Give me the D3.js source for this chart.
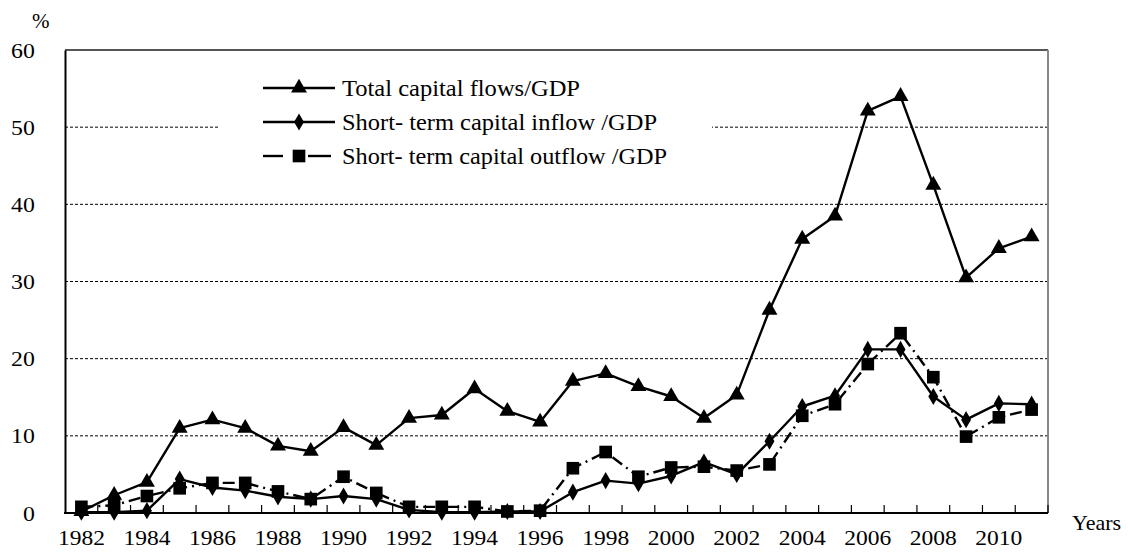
<!DOCTYPE html>
<html><head><meta charset="utf-8">
<script src="https://cdn.jsdelivr.net/npm/d3@7"></script>
<style>
html,body{margin:0;padding:0;background:#fff;}
svg text{font-family:"Liberation Serif","Times New Roman",serif !important;fill:#000;}
</style></head>
<body><svg id="c" width="1128" height="552"></svg>
<script>
const years = d3.range(1982, 2012);
const totalFlows = [0.2,2.3,4.0,11.0,12.1,11.0,8.7,8.0,11.1,8.8,12.3,12.7,16.1,13.2,11.8,17.1,18.1,16.4,15.1,12.3,15.3,26.3,35.5,38.5,52.1,54.0,42.5,30.5,34.3,35.8];
const inflow = [0.1,0.1,0.3,4.4,3.3,2.9,2.1,1.8,2.2,1.8,0.4,0.1,0.1,0.2,0.2,2.7,4.2,3.8,4.8,6.6,5.0,9.3,13.8,15.2,21.2,21.2,15.1,12.1,14.2,14.1];
const outflow = [0.8,1.0,2.2,3.2,3.9,3.9,2.8,1.8,4.7,2.6,0.8,0.8,0.8,0.2,0.3,5.8,7.9,4.7,5.9,6.0,5.5,6.3,12.6,14.1,19.3,23.3,17.6,9.9,12.4,13.4];
const yTicks = [0,10,20,30,40,50,60];
const xLabels = years.filter(y => y % 2 === 0);
const seriesNames = ["Total capital flows/GDP","Short- term capital inflow /GDP","Short- term capital outflow /GDP"];

const svg = d3.select("#c");
const L = 65, R = 1048, T = 50, B = 513;
const x = d3.scaleBand().domain(years).range([L, R]).padding(0);
const y = d3.scaleLinear().domain([0, 60]).range([B, T]);
const cx = d => x(d) + x.bandwidth() / 2;

// gridlines
svg.append("g").selectAll("line").data(yTicks.filter(v => v > 0 && v < 60)).join("line")
  .attr("x1", L).attr("x2", R).attr("y1", d => y(d)).attr("y2", d => y(d))
  .attr("stroke", "#000").attr("stroke-width", 1).attr("stroke-dasharray", "3,2");

// top and right border
svg.append("line").attr("x1", L).attr("x2", R).attr("y1", y(60)).attr("y2", y(60))
  .attr("stroke", "#555").attr("stroke-width", 2);
svg.append("line").attr("x1", R).attr("x2", R).attr("y1", y(60)).attr("y2", y(0))
  .attr("stroke", "#888").attr("stroke-width", 2);

// legend background (covers gridline)
svg.append("rect").attr("x", 218).attr("y", 68).attr("width", 494).attr("height", 112).attr("fill", "#fff");

// y axis
const yAxis = svg.append("g").attr("transform", `translate(${L},0)`)
  .call(d3.axisLeft(y).tickValues(yTicks).tickSize(0).tickPadding(28));
yAxis.attr("font-family", "Liberation Serif").attr("font-size", 22);
yAxis.select(".domain").attr("stroke", "#000").attr("stroke-width", 2);
yAxis.selectAll("text").attr("font-size", 22).attr("transform", "scale(1.08,1)");

// x axis labels
const xAxis = svg.append("g").attr("transform", `translate(0,${B})`)
  .call(d3.axisBottom(x).tickValues(xLabels).tickSize(0).tickPadding(17));
xAxis.attr("font-family", "Liberation Serif").attr("font-size", 21);
xAxis.select(".domain").remove();
xAxis.selectAll("text").attr("font-size", 21).attr("textLength", 47).attr("lengthAdjust", "spacingAndGlyphs");
// boundary tick marks (inward)
const bounds = years.map(d => x(d)).concat([R]);
svg.append("g").selectAll("line").data(bounds.slice(1)).join("line")
  .attr("x1", d => d).attr("x2", d => d).attr("y1", B).attr("y2", B - 8)
  .attr("stroke", "#000").attr("stroke-width", 1.2);
svg.append("line").attr("x1", L - 1).attr("x2", R).attr("y1", B).attr("y2", B)
  .attr("stroke", "#000").attr("stroke-width", 2);

svg.append("text").attr("x", 32).attr("y", 28).attr("font-size", 21).text("%");
svg.append("text").attr("x", 1072).attr("y", 530).attr("font-size", 22).text("Years");

const line = d3.line().x((d, i) => cx(years[i])).y(d => y(d));
const tri = d3.symbol().type(d3.symbolTriangle).size(110);
const dia = d3.symbol().type(d3.symbolDiamond).size(85);
const sq = d3.symbol().type(d3.symbolSquare).size(160);

function drawSeries(vals, sym, dash) {
  svg.append("path").datum(vals).attr("d", line).attr("fill", "none")
    .attr("stroke", "#000").attr("stroke-width", 2.4)
    .attr("stroke-dasharray", dash || null).attr("stroke-linejoin", "round");
  svg.append("g").selectAll("path").data(vals).join("path")
    .attr("d", sym).attr("fill", "#000")
    .attr("transform", (d, i) => `translate(${cx(years[i])},${y(d)})`);
}
drawSeries(totalFlows, tri);
drawSeries(outflow, sq, "12,5,2,5");
drawSeries(inflow, dia);

// legend
const lg = svg.append("g");
const rows = [88, 122, 156];
const syms = [tri, dia, sq];
rows.forEach((ry, i) => {
  if (i < 2) {
    lg.append("line").attr("x1", 263).attr("x2", 335).attr("y1", ry).attr("y2", ry)
      .attr("stroke", "#000").attr("stroke-width", 2.4);
  } else {
    lg.append("line").attr("x1", 263).attr("x2", 283).attr("y1", ry).attr("y2", ry)
      .attr("stroke", "#000").attr("stroke-width", 2.4);
    lg.append("line").attr("x1", 308).attr("x2", 331).attr("y1", ry).attr("y2", ry)
      .attr("stroke", "#000").attr("stroke-width", 2.4);
  }
  lg.append("path").attr("d", syms[i]).attr("fill", "#000").attr("transform", `translate(299,${ry})`);
  lg.append("text").attr("x", 342).attr("y", ry + 8).attr("font-size", 23)
    .attr("textLength", [238, 315, 325][i]).attr("lengthAdjust", "spacingAndGlyphs")
    .text(seriesNames[i]);
});
</script></body></html>
